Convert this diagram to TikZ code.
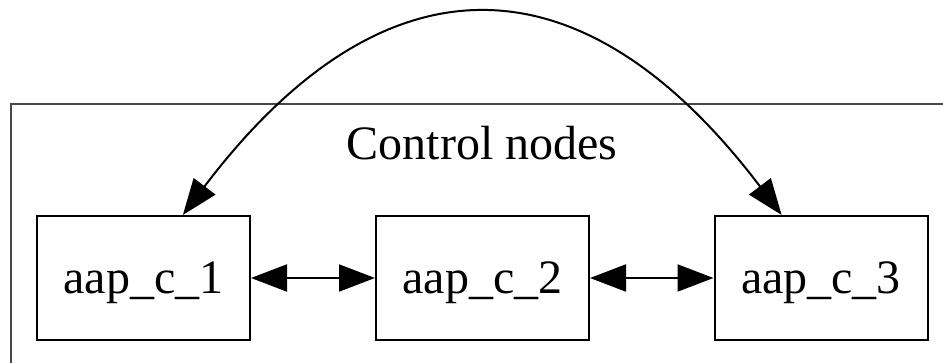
\documentclass[tikz,border=0pt]{standalone}
\usepackage{fontspec}
\setmainfont{Liberation Serif}
\usetikzlibrary{arrows.meta}
\tikzset{
  aapbox/.style={draw, line width=1pt, minimum width=106.5pt, minimum height=62pt, inner sep=0pt, text depth=0pt, font=\fontsize{24}{28}\selectfont},
  gvarrow/.style={line width=1pt, {Triangle[length=18pt,width=13.5pt]}-{Triangle[length=18pt,width=13.5pt]}}
}
\begin{document}
\begin{tikzpicture}[x=0.5pt,y=-0.5pt]
\useasboundingbox (0,0) rectangle (943,363);
\clip (0,0) rectangle (943,363);
\draw[line width=1.4pt, black!72] (11,104) rectangle (970,400);
\node[anchor=base, font=\fontsize{24}{28}\selectfont] (clustlabel) at (482,160) {Control nodes};

\node[aapbox] (c1) at (143.5,278) {aap\_c\_1};
\node[aapbox] (c2) at (482.5,278) {aap\_c\_2};
\node[aapbox] (c3) at (821,278) {aap\_c\_3};

\draw[gvarrow] (c1) -- (c2);
\draw[gvarrow] (c2) -- (c3);
\draw[gvarrow] (c1.58) .. controls +(200,-264) and +(-200,-264) .. (c3.122);
\end{tikzpicture}
\end{document}
